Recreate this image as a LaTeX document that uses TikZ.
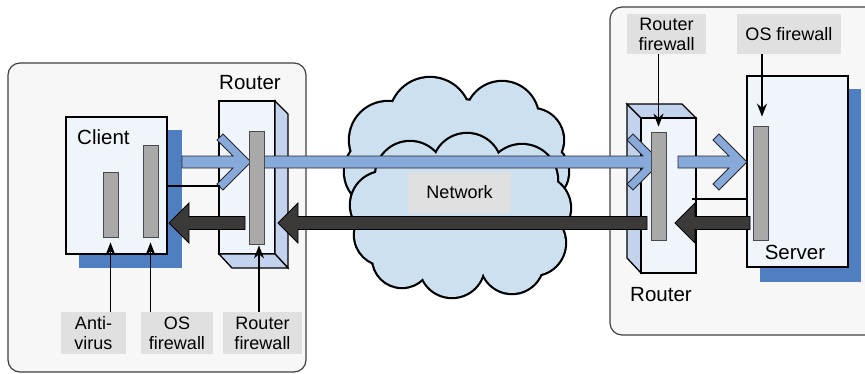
\documentclass[tikz,border=0pt]{standalone}
\usepackage{fontspec}
\setmainfont{Liberation Sans}
\usetikzlibrary{arrows.meta,calc}
\definecolor{contfill}{HTML}{F7F7F7}
\definecolor{contline}{HTML}{404040}
\definecolor{boxfill}{HTML}{F0F5FC}
\definecolor{shadowblue}{HTML}{4F7EC1}
\definecolor{sideblue}{HTML}{C3D3EE}
\definecolor{barfill}{HTML}{A9A9A9}
\definecolor{barline}{HTML}{4A4A4A}
\definecolor{labfill}{HTML}{E0E0E0}
\definecolor{arrblue}{HTML}{87AADB}
\definecolor{arrdark}{HTML}{3C3939}
\definecolor{cloudfill}{HTML}{CCE0F0}
\begin{document}
\begin{tikzpicture}[x=1pt,y=-1pt,
  container/.style={draw=contline,fill=contfill,line width=1.2pt,rounded corners=12pt},
  hostbox/.style={draw=black,fill=boxfill,line width=1.3pt,inner sep=0pt},
  bar/.style={draw=barline,fill=barfill,line width=0.8pt,inner sep=0pt,minimum width=15pt},
  lab/.style={fill=labfill,inner sep=0pt,align=center,font=\fontsize{18}{20}\selectfont},
  bigtxt/.style={inner sep=0pt,font=\fontsize{20.5}{24}\selectfont},
  routerline/.style={draw=black,line width=1.3pt,line join=miter},
  ptr/.style={line width=1.7pt,-{Stealth[length=13pt,width=10pt]}},
  bluearr/.style={fill=arrblue,draw=black!85,line width=0.9pt,line join=miter},
  darkarr/.style={fill=arrdark,draw=black,line width=0.9pt,line join=miter},
  thinline/.style={draw=black,line width=1.8pt},
  cloudline/.style={draw=black,line width=4.4pt},
  cloudbody/.style={fill=cloudfill}
]
\useasboundingbox (0,0) rectangle (865,373);
\clip (0,0) rectangle (865,373);

% containers
\draw[container] (8,63) rectangle (306,372);
\draw[container] (610,7) rectangle (890,335);

% cloud (back)
\foreach \cx/\cy/\r in {430/118/40,502/118/36,532/140/31,538/172/30,388/140/38,380/172/35,460/160/60}
  \path[cloudline] (\cx,\cy) circle[radius=\r];
\foreach \cx/\cy/\r in {430/118/40,502/118/36,532/140/31,538/172/30,388/140/38,380/172/35,460/160/60}
  \path[cloudbody] (\cx,\cy) circle[radius=\r];
% cloud (front)
\foreach \cx/\cy/\r in {410/176/34,467/168/34,522/180/35,538/208/32,533/243/32,512/262/31,452/265/32,402/258/29,385/235/30,384/205/33,460/220/55}
  \path[cloudline] (\cx,\cy) circle[radius=\r];
\foreach \cx/\cy/\r in {410/176/34,467/168/34,522/180/35,538/208/32,533/243/32,512/262/31,452/265/32,402/258/29,385/235/30,384/205/33,460/220/55}
  \path[cloudbody] (\cx,\cy) circle[radius=\r];
\node[lab,minimum width=103pt,minimum height=41pt] (net) at (459.5,192.5) {Network};

% client
\fill[shadowblue] (79,130) rectangle (182,268);
\node[hostbox,minimum width=101pt,minimum height=137pt] (client) at (116.5,185.5) {};
\node[bigtxt,anchor=west] (clienttxt) at (77,137) {Client};

% server
\fill[shadowblue] (760,89) rectangle (861,282);
\node[hostbox,minimum width=101pt,minimum height=191pt] (server) at (797.5,171.5) {};
\node[bigtxt] (servertxt) at (795,252) {Server};

% left router
\filldraw[routerline,fill=boxfill] (219,101) rectangle (275,254);
\filldraw[routerline,fill=sideblue] (275,101) -- (288,114) -- (288,268) -- (275,254) -- cycle;
\filldraw[routerline,fill=sideblue] (219,254) -- (275,254) -- (288,268) -- (232,268) -- cycle;
\node[bigtxt] (lroutertxt) at (250,83) {Router};

% right router
\filldraw[routerline,fill=sideblue] (627,104) -- (641,118) -- (641,273) -- (627,258) -- cycle;
\filldraw[routerline,fill=sideblue] (627,104) -- (682,104) -- (696,118) -- (641,118) -- cycle;
\filldraw[routerline,fill=boxfill] (641,118) rectangle (696,273);
\node[bigtxt] (rroutertxt) at (661,295) {Router};

% blue chevron arrows (tip x, shaft length)
\foreach \tx/\L in {251/69,661/397,747/69}{
  \begin{scope}[shift={(\tx,162)}]
    \filldraw[bluearr] (-\L,-6) -- (-18,-6) -- (-34,-22) -- (-28,-28) -- (0,0)
      -- (-28,28) -- (-34,22) -- (-18,6) -- (-\L,6) -- cycle;
  \end{scope}
}
% dark arrows (tip x, length)
\foreach \tx/\L in {169/76,278/369,675/75}{
  \begin{scope}[shift={(\tx,223)}]
    \filldraw[darkarr] (0,0) -- (20,-20) -- (20,-6.5) -- (\L,-6.5) -- (\L,6.5)
      -- (20,6.5) -- (20,20) -- cycle;
  \end{scope}
}
% thin lines
\coordinate (lchev) at (220,186);
\coordinate (rline) at (692,199);
\draw[thinline] (client.east |- lchev) -- (lchev);
\draw[thinline] (rline) -- (server.west |- rline);

% firewall bars
\node[bar,minimum height=65pt] (avbar) at (110.5,204.5) {};
\node[bar,minimum height=92pt] (cosbar) at (150.5,191) {};
\node[bar,minimum height=113pt] (lrbar) at (256.5,187.5) {};
\node[bar,minimum height=108pt] (rrbar) at (658.5,186) {};
\node[bar,minimum height=114pt] (svbar) at (760.5,183) {};

% labels
\node[lab,minimum width=65pt,minimum height=42pt] (avlab) at (93.5,333) {Anti-\\virus};
\node[lab,minimum width=72pt,minimum height=42pt] (coslab) at (177,333) {OS\\firewall};
\node[lab,minimum width=79pt,minimum height=42pt] (lrlab) at (262.5,333) {Router\\firewall};
\node[lab,minimum width=79pt,minimum height=40pt] (rrlab) at (666.5,34) {Router\\firewall};
\node[lab,minimum width=104pt,minimum height=40pt] (svlab) at (789,34) {OS firewall};

% pointer arrows
\draw[ptr] (avlab.north -| avbar.south) -- ([yshift=-5pt]avbar.south);
\draw[ptr] (coslab.north -| cosbar.south) -- ([yshift=-5pt]cosbar.south);
\draw[ptr] ([xshift=2.5pt]lrlab.north -| lrbar.south) -- ([xshift=2.5pt,yshift=-1pt]lrbar.south);
\draw[ptr] (rrlab.south -| rrbar.north) -- ([yshift=5pt]rrbar.north);
\draw[ptr] ([xshift=1.5pt]svlab.south -| svbar.north) -- ([xshift=1.5pt,yshift=9pt]svbar.north);
\end{tikzpicture}
\end{document}
